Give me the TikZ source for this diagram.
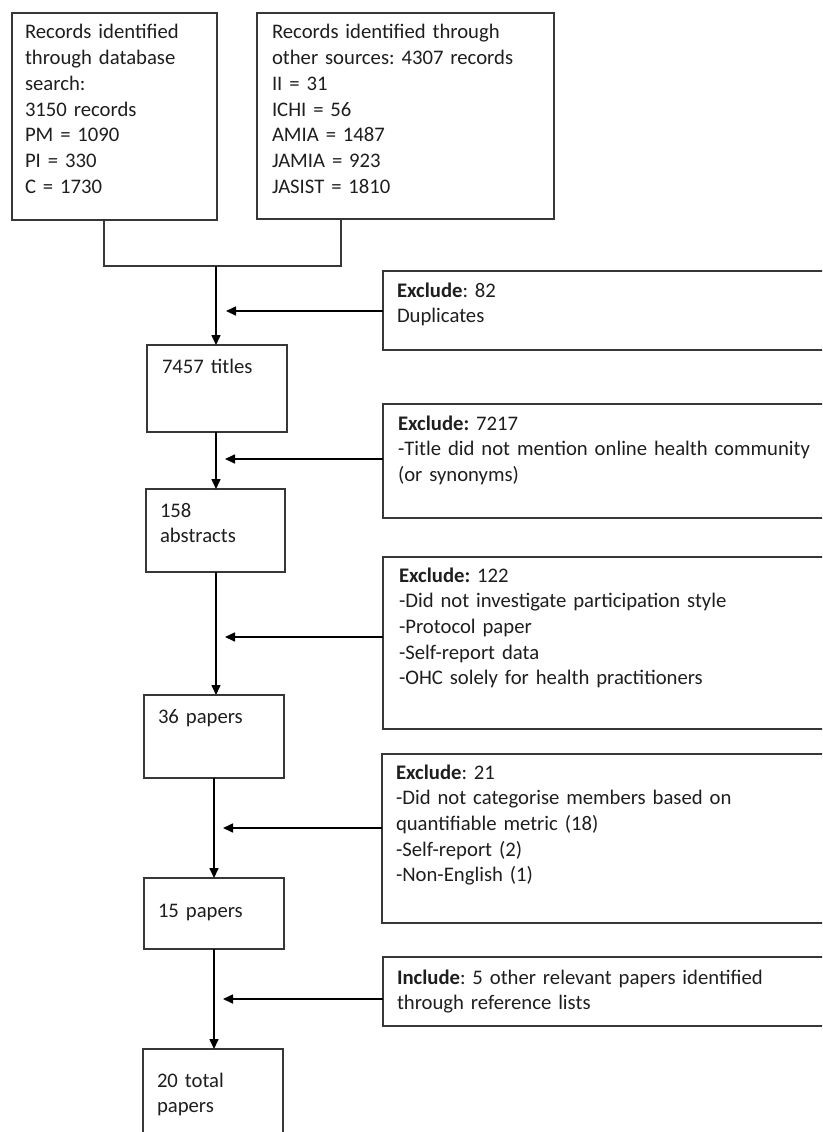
\documentclass[tikz,border=0pt]{standalone}
\usepackage{fontspec}
\setmainfont{Carlito}
\usetikzlibrary{arrows.meta}
\definecolor{lncol}{RGB}{55,55,55}
\definecolor{txtcol}{RGB}{30,30,30}
\frenchspacing
\begin{document}
\begin{tikzpicture}[x=1pt,y=-1pt,
  box/.style={draw=lncol, line width=1.3pt, rectangle, anchor=north west,
    inner ysep=0pt, outer sep=0pt, align=left, text=txtcol,
    font=\fontsize{20.7}{25.7}\selectfont\frenchspacing},
  conn/.style={draw=lncol, line width=1.5pt},
  arr/.style={draw=black, line width=1.6pt, -{Triangle[length=10pt,width=9pt]}}]
\path[use as bounding box] (0,0) rectangle (822,1132);
\clip (0,0) rectangle (822,1132);
% boxes
\node[box, inner xsep=13pt, text width=179pt, text height=26pt, text depth=181pt] (b1) at (12,13)
  {Records identified\\through database\\search:\\3150 records\\PM = 1090\\PI = 330\\C = 1730};
\node[box, inner xsep=15pt, text width=267pt, text height=26pt, text depth=180pt] (b2) at (257,13)
  {Records identified through\\other sources: 4307 records\\II = 31\\ICHI = 56\\AMIA = 1487\\JAMIA = 923\\JASIST = 1810};
\node[box, inner xsep=14pt, text width=429pt, text height=26pt, text depth=53pt] (e82) at (383,271)
  {\textbf{Exclude}: 82\\Duplicates};
\node[box, inner xsep=15pt, text width=110pt, text height=28pt, text depth=59pt] (t7457) at (147,345)
  {7457 titles};
\node[box, inner xsep=15pt, text width=427pt, text height=26pt, text depth=88pt] (e7217) at (383,404)
  {\textbf{Exclude:} 7217\\-Title did not mention online health community\\(or synonyms)};
\node[box, inner xsep=14pt, text width=111pt, text height=28pt, text depth=55pt] (a158) at (146,489)
  {158\\abstracts};
\node[box, inner xsep=16pt, text width=425pt, text height=25pt, text depth=147pt] (e122) at (383,557)
  {\textbf{Exclude:} 122\\-Did not investigate participation style\\-Protocol paper\\-Self-report data\\-OHC solely for health practitioners};
\node[box, inner xsep=14pt, text width=112pt, text height=28pt, text depth=55pt] (p36) at (144,695)
  {36 papers};
\node[box, inner xsep=14pt, text width=430pt, text height=25pt, text depth=144pt] (e21) at (382,754)
  {\textbf{Exclude}: 21\\-Did not categorise members based on\\quantifiable metric (18)\\-Self-report (2)\\-Non-English (1)};
\node[box, inner xsep=14pt, text width=112pt, text height=39pt, text depth=32pt] (p15) at (144,878)
  {15 papers};
\node[box, inner xsep=14pt, text width=429pt, text height=27pt, text depth=42pt] (inc) at (383,957)
  {\textbf{Include}: 5 other relevant papers identified\\through reference lists};
\node[box, inner xsep=14pt, text width=112pt, text height=38pt, text depth=72pt] (p20) at (143,1049)
  {20 total\\papers};
% connectors
\coordinate (j1) at (104,266);
\coordinate (j2) at (341,266);
\coordinate (jm) at (216,266);
\coordinate (jl) at (214,266);
\draw[conn] (b1.south -| j1) -- (j1) -- (j2) -- (b2.south -| j2);
\draw[arr] (jm) -- (t7457.north -| jm);
\draw[arr] (t7457.south -| jm) -- (a158.north -| jm);
\draw[arr] (a158.south -| jm) -- (p36.north -| jm);
\draw[arr] (p36.south -| jl) -- (p15.north -| jl);
\draw[arr] (p15.south -| jl) -- (p20.north -| jl);
\coordinate (h1) at (226,311);
\coordinate (h2) at (225,459);
\coordinate (h3) at (225,637);
\coordinate (h4) at (223,828);
\coordinate (h5) at (223,999);
\draw[arr] (e82.west |- h1) -- (h1);
\draw[arr] (e7217.west |- h2) -- (h2);
\draw[arr] (e122.west |- h3) -- (h3);
\draw[arr] (e21.west |- h4) -- (h4);
\draw[arr] (inc.west |- h5) -- (h5);
\end{tikzpicture}
\end{document}
